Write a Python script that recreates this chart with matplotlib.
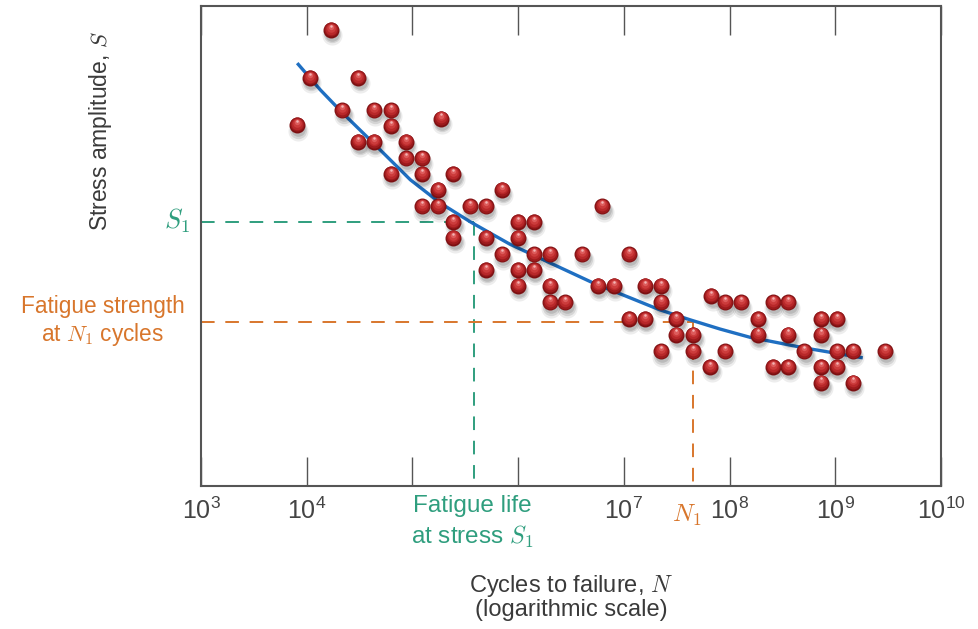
import numpy as np
import matplotlib
matplotlib.use('Agg')
import matplotlib.pyplot as plt
from matplotlib.transforms import offset_copy

plt.rcParams['font.family'] = ['Liberation Sans', 'DejaVu Sans']
plt.rcParams['mathtext.fontset'] = 'cm'

# dados (log10 dos ciclos, amplitude em unidades arbitrarias 0-100)
logN_pontos = [4.23, 4.03, 4.49, 3.91, 4.34, 4.64, 4.80, 4.80, 4.49, 4.64,
               4.94, 5.27, 4.94, 5.09, 4.80, 5.09, 5.39, 5.24, 5.85, 5.09,
               5.24, 5.55, 5.70, 6.80, 5.39, 5.39, 5.70, 6.00, 6.15, 6.00,
               5.85, 6.15, 6.30, 5.70, 6.00, 6.15, 6.61, 7.05, 6.00, 6.30,
               6.76, 6.91, 7.20, 7.35, 6.30, 6.45, 7.35, 7.05, 7.20, 7.50,
               7.35, 7.50, 7.66, 7.66, 7.82, 7.96, 7.83, 7.96, 8.11, 8.27,
               8.27, 8.41, 8.56, 8.56, 8.41, 8.56, 8.71, 8.87, 9.02, 8.87,
               8.87, 9.02, 9.17, 8.87, 9.17, 9.02, 9.47]
S_pontos = [95.0, 85.0, 85.0, 75.2, 78.3, 78.3, 78.3, 75.0, 71.7, 71.7,
            71.7, 76.5, 68.3, 68.3, 65.0, 65.0, 65.0, 61.7, 61.7, 58.3,
            58.3, 58.3, 58.3, 58.3, 55.0, 51.7, 51.7, 55.0, 55.0, 51.7,
            48.3, 48.3, 48.3, 45.0, 45.0, 45.0, 48.3, 48.3, 41.7, 41.7,
            41.7, 41.7, 41.7, 41.7, 38.3, 38.3, 38.3, 34.8, 34.8, 34.8,
            28.1, 31.5, 31.5, 28.1, 24.8, 28.1, 39.6, 38.3, 38.3, 34.8,
            31.5, 38.3, 38.3, 31.5, 24.8, 24.8, 28.1, 34.8, 34.8, 31.5,
            24.8, 28.1, 28.1, 21.5, 21.5, 24.8, 28.1]

# curva S-N ajustada (pontos lidos ao longo da linha azul)
logN_curva = [3.91, 4.13, 4.34, 4.60, 4.98, 5.26, 5.55, 5.92, 6.30, 6.71,
              7.06, 7.34, 7.63, 7.91, 8.19, 8.70, 9.26]
S_curva = [88.1, 82.5, 77.7, 72.1, 63.8, 59.0, 55.0, 50.4, 46.5, 42.3,
           39.2, 36.7, 34.6, 32.7, 31.0, 28.8, 26.7]

S1 = 55.0
logN_S1 = 5.58
S_N1 = 34.2
logN1 = 7.65

decadas = [3, 4, 5, 6, 7, 8, 9, 10]
rotulos = [r'$\mathregular{10^{%d}}$' % d for d in decadas]
rotulos[2] = ''
rotulos[3] = ''

verde = '#2f9e7e'
laranja = '#d8762c'
azul = '#1f6fc2'
cinza = '#555555'
texto = '#3a3a3a'

fig = plt.figure(figsize=(9.79, 6.29), dpi=100)
ax = fig.add_axes([201 / 979, (629 - 486) / 629, 740 / 979, 480 / 629])
ax.set_xscale('log')
ax.set_xlim(1e3, 1e10)
ax.set_ylim(0, 100)

N_pontos = 10 ** np.array(logN_pontos)
N_curva = 10 ** np.array(logN_curva)

# linhas tracejadas
tracejado = (0, (7, 5.5))
ax.plot([1e3, 10 ** logN_S1], [S1, S1], color=verde, lw=1.4, ls=tracejado, zorder=1)
ax.plot([10 ** logN_S1, 10 ** logN_S1], [S1, 0], color=verde, lw=1.4, ls=tracejado, zorder=1)
ax.plot([1e3, 10 ** logN1], [S_N1, S_N1], color=laranja, lw=1.4, ls=tracejado, zorder=1)
ax.plot([10 ** logN1, 10 ** logN1], [S_N1, 0], color=laranja, lw=1.4, ls=tracejado, zorder=1)

# curva
ax.plot(N_curva, S_curva, color=azul, lw=2.4, solid_capstyle='butt', zorder=2)

# esferas vermelhas: sombra difusa e camadas de cor para imitar o volume
camadas_sombra = [(14.5, 0.07, 1.0, -5.5), (12.5, 0.10, 1.0, -4.5), (10.5, 0.12, 1.0, -4.0)]
for ms, a, dx, dy in camadas_sombra:
    tr = offset_copy(ax.transData, fig=fig, x=dx, y=dy, units='dots')
    ax.plot(N_pontos, S_pontos, 'o', ms=ms, color='#000000', alpha=a, mec='none',
            transform=tr, zorder=3)

camadas = [(11.5, '#7c1012', 0.0), (10.2, '#9c1a1c', 0.6), (8.4, '#b8282a', 1.4),
           (6.2, '#cc3c3c', 2.3), (3.8, '#dd5c5c', 3.2), (1.8, '#f3b5b5', 4.3)]
for ms, cor, dy in camadas:
    tr = offset_copy(ax.transData, fig=fig, x=-0.3, y=dy, units='dots')
    ax.plot(N_pontos, S_pontos, 'o', ms=ms, color=cor, mec='none', transform=tr, zorder=4)

# eixos
for lado in ['left', 'right', 'top', 'bottom']:
    ax.spines[lado].set_color(cinza)
    ax.spines[lado].set_linewidth(1.5)
ax.set_yticks([])
ax.set_xticks([10.0 ** d for d in decadas])
ax.set_xticklabels(rotulos)
ax.minorticks_off()
ax.tick_params(axis='x', which='major', direction='in', top=True, bottom=True,
               length=21, width=1.0, color=cinza, pad=8, labelsize=18, labelcolor='#444444')
ax.tick_params(axis='x', which='minor', bottom=False, top=False)

# textos
fig.text(101 / 979, 1 - 131 / 629, r'Stress amplitude, $S$', rotation=90, ha='center',
         va='center', fontsize=16.5, color=texto)
fig.text(177 / 979, 1 - 221 / 629, r'$S_1$', ha='center', va='center', fontsize=19, color=verde)
fig.text(103 / 979, 1 - 306 / 629, 'Fatigue strength', ha='center', va='center',
         fontsize=16.3, color=laranja)
fig.text(103 / 979, 1 - 334 / 629, r'at $N_1$ cycles', ha='center', va='center',
         fontsize=16.3, color=laranja)
fig.text(472 / 979, 1 - 506 / 629, 'Fatigue life', ha='center', va='center',
         fontsize=17.5, color=verde)
fig.text(472 / 979, 1 - 537 / 629, r'at stress $S_1$', ha='center', va='center',
         fontsize=17.5, color=verde)
fig.text(687 / 979, 1 - 515 / 629, r'$N_1$', ha='center', va='center', fontsize=18, color=laranja)
fig.text(571 / 979, 1 - 586 / 629, r'Cycles to failure, $N$', ha='center', va='center',
         fontsize=17, color=texto)
fig.text(571 / 979, 1 - 610 / 629, '(logarithmic scale)', ha='center', va='center',
         fontsize=17, color=texto)

plt.savefig('out.png', dpi=100)
